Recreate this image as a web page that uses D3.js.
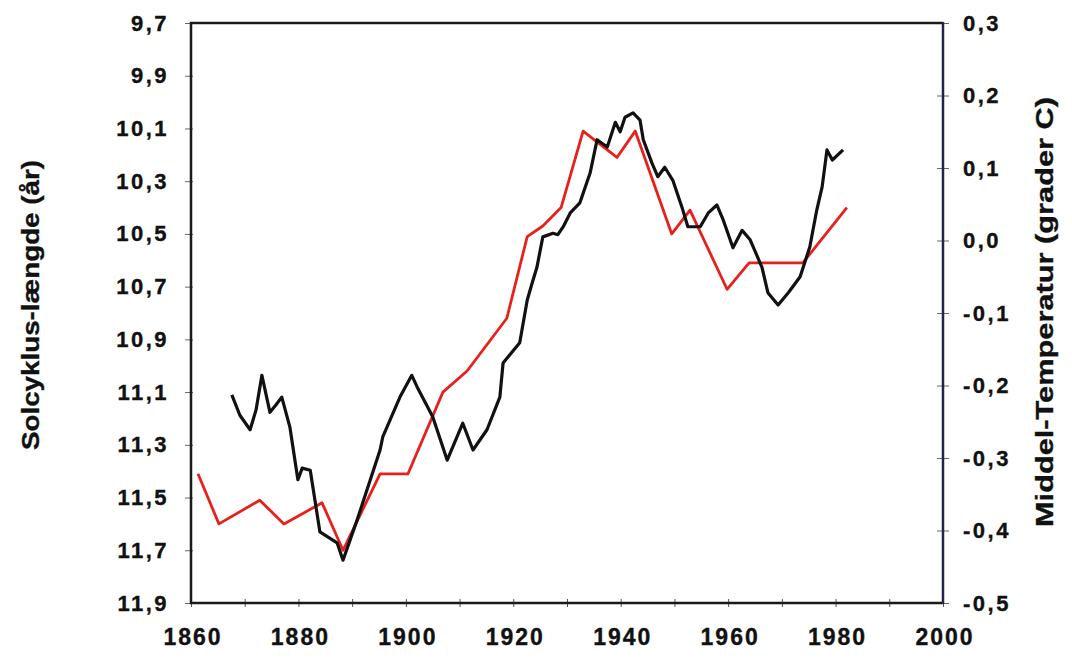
<!DOCTYPE html>
<html>
<head>
<meta charset="utf-8">
<script src="https://cdn.jsdelivr.net/npm/d3@7"></script>
<style>
  body { margin: 0; background: #fff; }
  text { font-family: "Liberation Sans", Arial, sans-serif; font-weight: bold; fill: #111; stroke: #111; stroke-width: 0.35px; }
</style>
</head>
<body>
<div id="chart"></div>
<script>
// solar cycle length (left axis, years) - red
const cycleYears = [1861.3, 1865.2, 1872.8, 1877.3, 1884.4, 1888.3, 1895.2, 1900.4, 1906.9, 1911.4,
  1918.8, 1922.6, 1925.5, 1928.9, 1933.0, 1939.3, 1942.7, 1949.5, 1952.9, 1959.8, 1963.9, 1973.9, 1982.1];
const cycleLength = [11.41, 11.60, 11.51, 11.60, 11.52, 11.70, 11.41, 11.41, 11.10, 11.02,
  10.82, 10.51, 10.47, 10.40, 10.11, 10.21, 10.11, 10.50, 10.41, 10.71, 10.61, 10.61, 10.40];

// mean temperature (right axis, deg C) - black
const tempYears = [1867.6, 1869.1, 1871.0, 1872.1, 1873.2, 1874.7, 1875.8, 1876.9, 1878.4, 1879.9,
  1880.7, 1882.2, 1884.0, 1887.2, 1888.3, 1890.9, 1895.2, 1895.7, 1898.9, 1901.1,
  1902.1, 1905.0, 1907.7, 1910.6, 1912.5, 1915.1, 1917.5, 1918.1, 1921.2, 1922.6,
  1923.5, 1924.4, 1925.5, 1927.4, 1928.3, 1929.3, 1930.6, 1932.4, 1934.3, 1935.6,
  1937.5, 1939.0, 1939.9, 1940.8, 1942.3, 1943.6, 1944.2, 1945.8, 1946.9, 1948.2,
  1949.7, 1951.4, 1952.5, 1954.8, 1956.3, 1957.9, 1959.1, 1960.9, 1962.6, 1964.1,
  1966.3, 1967.4, 1969.3, 1971.2, 1973.4, 1975.2, 1976.5, 1977.5, 1978.4, 1979.4, 1981.4];
const tempValues = [-0.213, -0.241, -0.261, -0.234, -0.186, -0.237, -0.227, -0.216, -0.257, -0.330,
  -0.314, -0.317, -0.402, -0.417, -0.441, -0.386, -0.289, -0.271, -0.216, -0.186,
  -0.202, -0.243, -0.303, -0.252, -0.289, -0.261, -0.216, -0.169, -0.141, -0.082,
  -0.059, -0.037, 0.005, 0.010, 0.008, 0.019, 0.038, 0.052, 0.093, 0.139,
  0.129, 0.163, 0.150, 0.170, 0.176, 0.166, 0.139, 0.107, 0.088, 0.101,
  0.083, 0.046, 0.019, 0.019, 0.038, 0.049, 0.028, -0.010, 0.014, 0.001,
  -0.037, -0.072, -0.089, -0.072, -0.050, -0.009, 0.042, 0.074, 0.125, 0.111, 0.125];

const xTicks = [1860, 1880, 1900, 1920, 1940, 1960, 1980, 2000];
const xMinorTicks = d3.range(1860, 2001, 10);
const leftTicks = [9.7, 9.9, 10.1, 10.3, 10.5, 10.7, 10.9, 11.1, 11.3, 11.5, 11.7, 11.9];
const rightTicks = [0.3, 0.2, 0.1, 0.0, -0.1, -0.2, -0.3, -0.4, -0.5];

const W = 1072, H = 663;
const margin = { top: 23, right: 129, bottom: 60, left: 191 };
const width = W - margin.left - margin.right;
const height = H - margin.top - margin.bottom;

const locale = d3.formatLocale({ decimal: ",", thousands: ".", grouping: [3], currency: ["", ""], minus: "-" });
const fmt1 = locale.format(".1f");

const svg = d3.select("#chart").append("svg")
  .attr("width", W).attr("height", H)
  .append("g")
  .attr("transform", "translate(" + margin.left + "," + margin.top + ")");

const x = d3.scaleLinear().domain([1860, 2000]).range([0, width]);
const yLeft = d3.scaleLinear().domain([9.7, 11.9]).range([0, height]);
const yRight = d3.scaleLinear().domain([-0.5, 0.3]).range([height, 0]);

// bottom ticks (every 10 years) and labels every 20
const xAxis = svg.append("g")
  .attr("transform", "translate(0," + height + ")")
  .call(d3.axisBottom(x).tickValues(xMinorTicks).tickSize(4).tickFormat(""));
xAxis.select(".domain").remove();
xAxis.selectAll(".tick line").attr("y1", -4).attr("stroke", "#555");

svg.append("g").selectAll("text")
  .data(xTicks)
  .join("text")
  .attr("x", d => x(d) + 2)
  .attr("y", height + 42)
  .attr("text-anchor", "middle")
  .style("font-size", "23px")
  .style("letter-spacing", "2px")
  .text(d => d);

// left axis
const leftAxis = svg.append("g")
  .call(d3.axisLeft(yLeft).tickValues(leftTicks).tickSize(6).tickPadding(16).tickFormat(fmt1));
leftAxis.select(".domain").remove();
leftAxis.selectAll(".tick line").attr("x2", -6).attr("x1", 2).attr("stroke", "#666");
leftAxis.selectAll("text")
  .style("font-size", "22px").style("letter-spacing", "2.5px")
  .style("font-family", "'Liberation Sans', Arial, sans-serif").attr("fill", "#111");

// right axis
const rightAxis = svg.append("g")
  .attr("transform", "translate(" + width + ",0)")
  .call(d3.axisRight(yRight).tickValues(rightTicks).tickSize(6).tickPadding(14).tickFormat(fmt1));
rightAxis.select(".domain").remove();
rightAxis.selectAll(".tick line").attr("x1", -6).attr("x2", 6).attr("stroke", "#666");
rightAxis.selectAll("text")
  .style("font-size", "22px").style("letter-spacing", "2.5px")
  .style("font-family", "'Liberation Sans', Arial, sans-serif").attr("fill", "#111");

// frame
svg.append("path")
  .attr("d", `M${width},0 H0 V${height} H${width}`)
  .attr("fill", "none").attr("stroke", "#1a1a1a").attr("stroke-width", 2.5);
svg.append("line")
  .attr("x1", width).attr("x2", width).attr("y1", -1).attr("y2", height + 1)
  .attr("stroke", "#23234a").attr("stroke-width", 2.5);

// lines
const redLine = d3.line()
  .x((d, i) => x(cycleYears[i]))
  .y(d => yLeft(d));
svg.append("path")
  .datum(cycleLength)
  .attr("d", redLine)
  .attr("fill", "none").attr("stroke", "#e8201c").attr("stroke-width", 2.8)
  .attr("stroke-linejoin", "round");

const blackLine = d3.line()
  .x((d, i) => x(tempYears[i]))
  .y(d => yRight(d));
svg.append("path")
  .datum(tempValues)
  .attr("d", blackLine)
  .attr("fill", "none").attr("stroke", "#111").attr("stroke-width", 3.2)
  .attr("stroke-linejoin", "round");

// axis titles
svg.append("text")
  .attr("transform", "translate(" + (31 - margin.left + 8) + "," + (305 - margin.top) + ") rotate(-90)")
  .attr("text-anchor", "middle")
  .attr("textLength", 290).attr("lengthAdjust", "spacingAndGlyphs")
  .style("font-size", "24px")
  .text("Solcyklus-længde (år)");

svg.append("text")
  .attr("transform", "translate(" + (1045 - margin.left + 8) + "," + (312 - margin.top) + ") rotate(-90)")
  .attr("text-anchor", "middle")
  .attr("textLength", 430).attr("lengthAdjust", "spacingAndGlyphs")
  .style("font-size", "24px")
  .text("Middel-Temperatur (grader C)");
</script>
</body>
</html>
